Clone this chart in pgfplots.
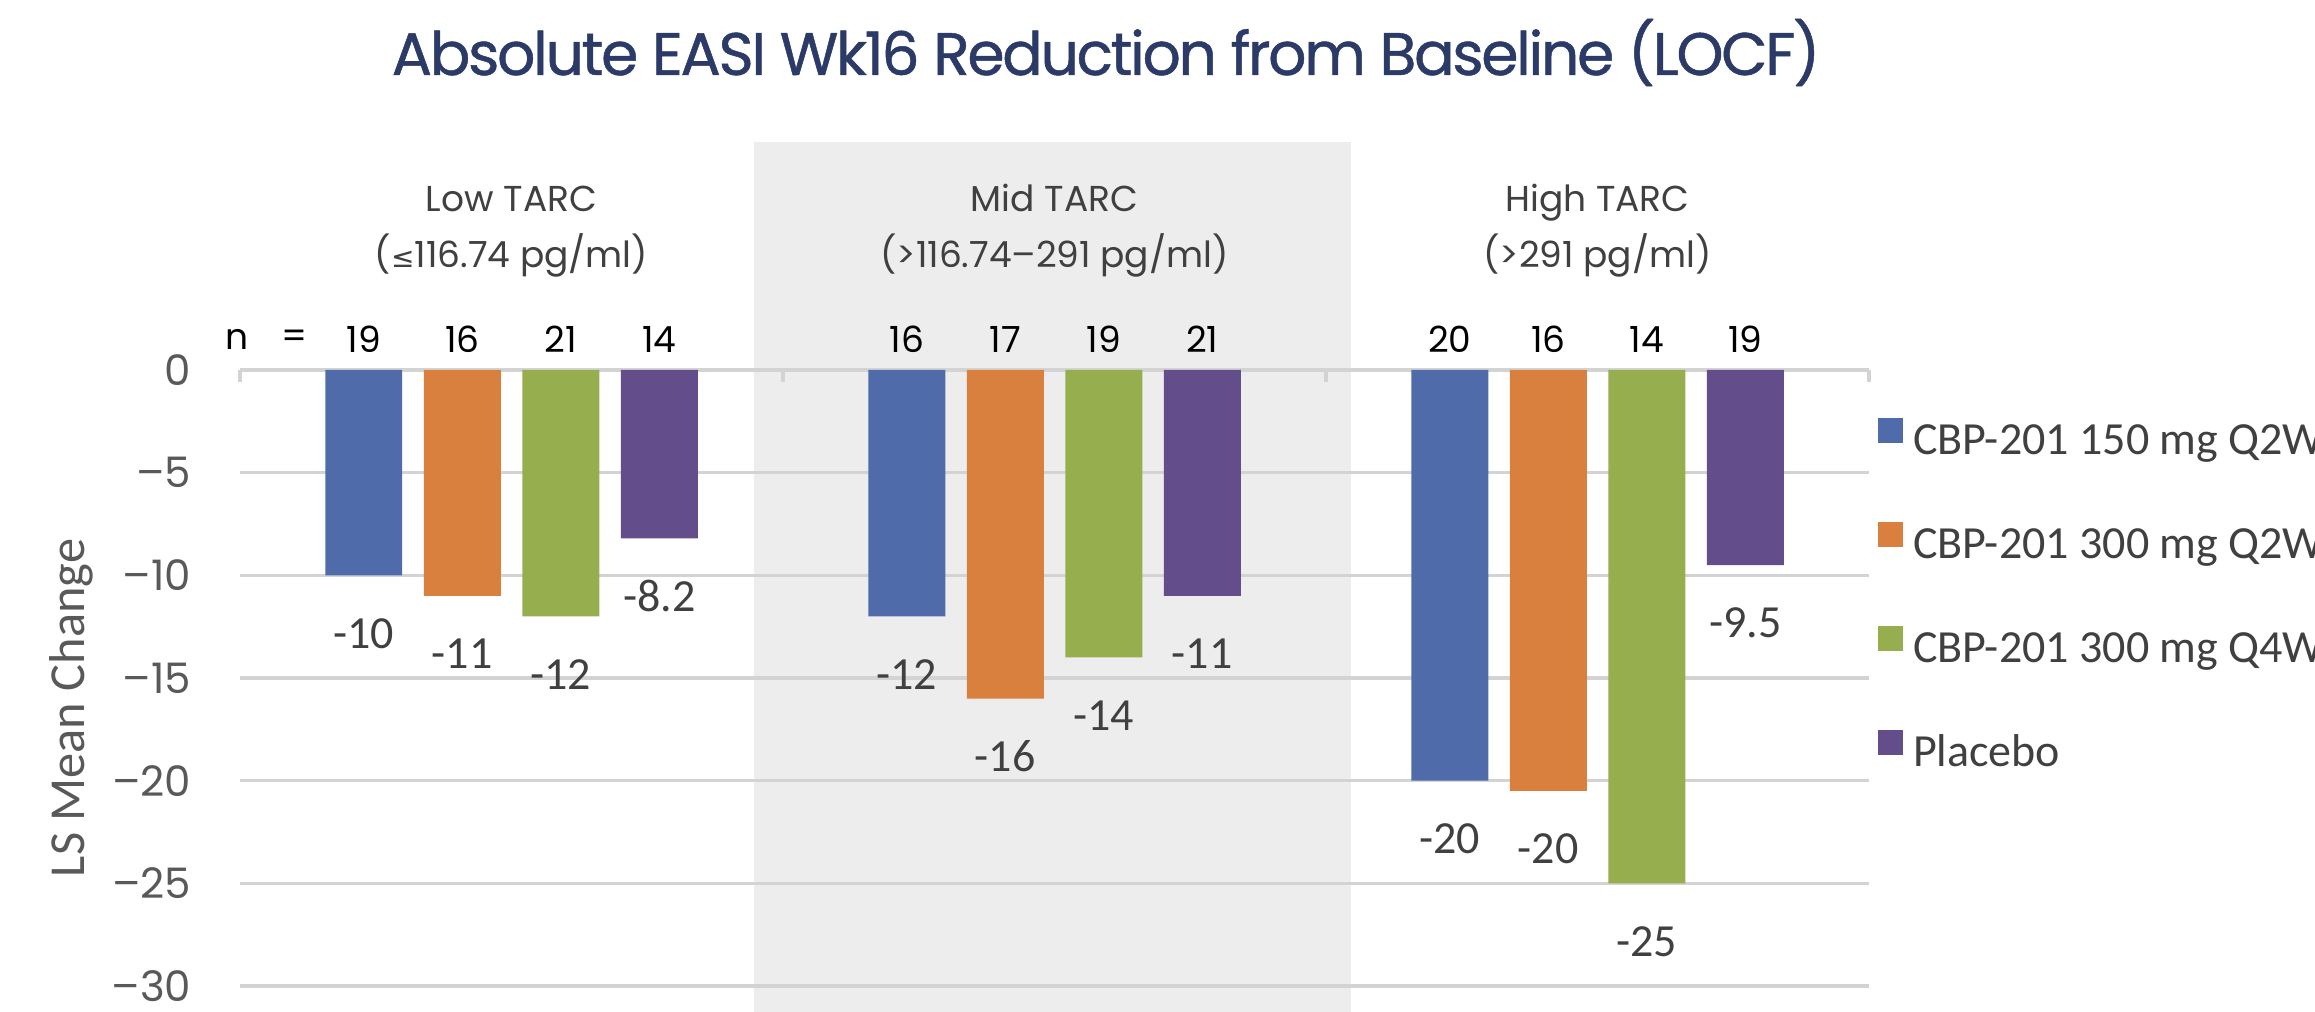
\documentclass[border=0pt]{standalone}
\usepackage{pgfplots}
\pgfplotsset{compat=1.18}
\usepackage{pgfplotstable}
\usepackage{fontspec}
\setmainfont{Carlito}
\newfontfamily\poppins{Poppins}
\newfontfamily\poppinstitle[LetterSpace=-3.9, FakeBold=0.8]{Poppins}
\newfontfamily\dejavu{DejaVu Sans}
\definecolor{cblue}{HTML}{4F6BAA}
\definecolor{corange}{HTML}{D9803F}
\definecolor{cgreen}{HTML}{97AE4F}
\definecolor{cpurple}{HTML}{634D8B}
\definecolor{gridgray}{HTML}{D3D3D3}
\definecolor{bandgray}{HTML}{EDEDED}
\definecolor{titleblue}{HTML}{2B3A67}
\definecolor{txtgray}{HTML}{595959}
\definecolor{lblgray}{HTML}{404040}

% x = group (0 Low, 1 Mid, 2 High) + position of the bar in its group
\pgfplotstableread{
x y lab
-0.2721 -10 -10
0.7279 -12 -12
1.7279 -20 -20
}\tblA
\pgfplotstableread{
x y lab
-0.0907 -11 -11
0.9093 -16 -16
1.9093 -20.5 -20
}\tblB
\pgfplotstableread{
x y lab
0.0907 -12 -12
1.0907 -14 -14
2.0907 -25 -25
}\tblC
\pgfplotstableread{
x y lab
0.2721 -8.2 -8.2
1.2721 -11 -11
2.2721 -9.5 -9.5
}\tblD

\begin{document}
\begin{tikzpicture}
\useasboundingbox (0,0) rectangle (578.75pt,-253pt);
\clip (0,0) rectangle (578.75pt,-253pt);
\begin{scope}[x=0.25pt,y=-0.25pt]
\fill[bandgray] (754,142) rectangle (1351,1012);
\node[anchor=base, font=\poppinstitle\fontsize{15}{18}\selectfont, text=titleblue, inner sep=0pt] at (1106,75) {Absolute EASI Wk16 Reduction from Baseline (LOCF)};
\node[rotate=90, anchor=base, font=\fontsize{12.6}{15}\selectfont, text=txtgray, inner sep=0pt] at (84,708) {LS Mean Change};
\end{scope}
\begin{axis}[
  at={(60pt,-246.5pt)}, anchor=south west,
  scale only axis, width=407.25pt, height=154pt,
  xmin=-0.5, xmax=2.5, ymin=-30, ymax=0,
  clip=false,
  axis x line*=top, axis y line*=left,
  y axis line style={draw=none},
  x axis line style={draw=gridgray, line width=0.9pt},
  xtick={-0.5,0.5,1.5,2.5}, xticklabels={},
  major x tick style={draw=gridgray, line width=0.9pt},
  tick align=inside, major tick length=3pt,
  ytick={-30,-25,...,0},
  yticklabels={–30,–25,–20,–15,–10,–5,0},
  major y tick style={draw=none},
  ymajorgrids, grid style={draw=gridgray, line width=0.9pt},
  yticklabel style={font=\poppins\fontsize{10.5}{12}\selectfont, text=txtgray, anchor=east, inner sep=0pt, xshift=-12pt},
  nodes near coords, point meta=explicit symbolic,
  nodes near coords style={font=\fontsize{11.5}{13}\selectfont, text=lblgray, anchor=center, yshift=-14.5pt, inner sep=0pt},
  legend style={draw=none, fill=none, at={(1.00553,0.9213)}, anchor=north west, inner sep=0pt, outer sep=0pt, row sep=14.5pt, column sep=2.5pt, font=\fontsize{11.5}{13}\selectfont, text=lblgray, nodes={inner sep=0pt, text height=8pt, text depth=2.5pt}},
  legend cell align=left,
  legend image code/.code={\fill[#1, draw=none] (0pt,0pt) rectangle (6.25pt,6.25pt);},
]
\addplot[ybar, bar shift=0pt, bar width=0.1418, fill=cblue, draw=none] table[x=x, y=y, meta=lab] {\tblA};
\addlegendentry{CBP-201 150 mg Q2W}
\addplot[ybar, bar shift=0pt, bar width=0.1418, fill=corange, draw=none] table[x=x, y=y, meta=lab] {\tblB};
\addlegendentry{CBP-201 300 mg Q2W}
\addplot[ybar, bar shift=0pt, bar width=0.1418, fill=cgreen, draw=none] table[x=x, y=y, meta=lab] {\tblC};
\addlegendentry{CBP-201 300 mg Q4W}
\addplot[ybar, bar shift=0pt, bar width=0.1418, fill=cpurple, draw=none] table[x=x, y=y, meta=lab] {\tblD};
\addlegendentry{Placebo}

% group headings
\begin{scope}[every node/.style={font=\poppins\fontsize{9}{11}\selectfont, text=lblgray, anchor=base, inner sep=0pt}]
\node at (axis cs:0,7.695) {Low TARC};
\node at (axis cs:0,4.968) {({\dejavu\fontsize{7}{8}\selectfont ≤}116.74 pg/ml)};
\node at (axis cs:1,7.695) {Mid TARC};
\node at (axis cs:1,4.968) {(>116.74–291 pg/ml)};
\node at (axis cs:2,7.695) {High TARC};
\node at (axis cs:2,4.968) {(>291 pg/ml)};
\end{scope}
% n per arm
\begin{scope}[every node/.style={font=\poppins\fontsize{9}{11}\selectfont, text=black, anchor=center, inner sep=0pt}]
\node at (axis cs:-0.5055,1.49) {n};
\node at (axis cs:-0.3987,1.49) {=};
\node at (axis cs:-0.2721,1.49) {19};
\node at (axis cs:-0.0907,1.49) {16};
\node at (axis cs:0.0907,1.49) {21};
\node at (axis cs:0.2721,1.49) {14};
\node at (axis cs:0.7279,1.49) {16};
\node at (axis cs:0.9093,1.49) {17};
\node at (axis cs:1.0907,1.49) {19};
\node at (axis cs:1.2721,1.49) {21};
\node at (axis cs:1.7279,1.49) {20};
\node at (axis cs:1.9093,1.49) {16};
\node at (axis cs:2.0907,1.49) {14};
\node at (axis cs:2.2721,1.49) {19};
\end{scope}
\end{axis}
\end{tikzpicture}
\end{document}
